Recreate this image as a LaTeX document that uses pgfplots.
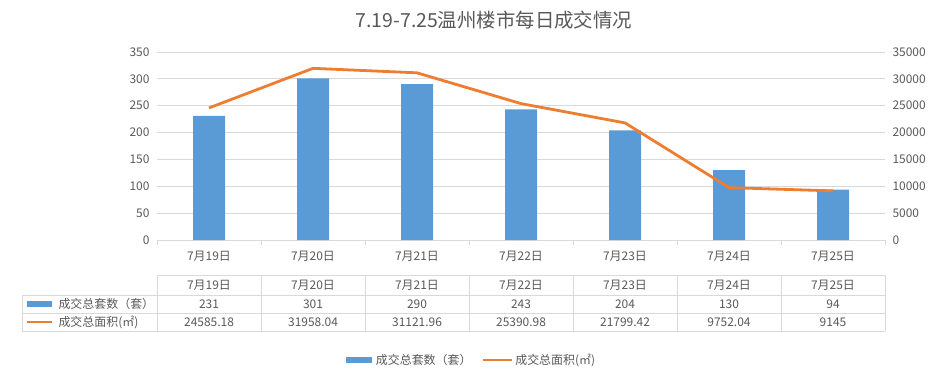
\documentclass[border=0pt]{standalone}
\usepackage{pgfplots}
\pgfplotsset{compat=1.18}
\usepackage{fontspec}
\setmainfont{Noto Sans CJK SC}
\definecolor{barblue}{HTML}{5B9BD5}
\definecolor{lineorange}{HTML}{ED7D31}
\definecolor{textgray}{HTML}{595959}
\definecolor{gridgray}{HTML}{D9D9D9}
\begin{document}
\begin{tikzpicture}[x=1bp,y=1bp]
\path[use as bounding box] (0,0) rectangle (938,380);
\node[text=textgray,font=\fontsize{19.5}{22}\selectfont] at (494,360) {7.19-7.25温州楼市每日成交情况};
\begin{axis}[
  at={(157bp,140bp)}, anchor=south west, scale only axis,
  width=728bp, height=188bp,
  xmin=-0.5, xmax=6.5, ymin=0, ymax=350, ytick distance=50,
  xtick={0,...,6},
  xticklabels={7月19日,7月20日,7月21日,7月22日,7月23日,7月24日,7月25日},
  axis line style={draw=none},
  tick pos=left,
  xtick style={draw=none}, ytick style={draw=none},
  ymajorgrids, grid style={gridgray, line width=0.8bp},
  extra x ticks={-0.5,0.5,...,6.5}, extra x tick labels={},
  extra x tick style={xtick style={draw=gridgray, line width=0.8bp}, major tick length=5bp, tick align=outside},
  /pgf/number format/assume math mode=true,
  tick label style={font=\fontsize{12}{14}\selectfont, text=textgray},
  xticklabel style={anchor=base, yshift=-20bp},
  yticklabel style={xshift=-4bp},
]
\addplot[ybar, bar width=32bp, fill=barblue, draw=none] coordinates {(0,231) (1,301) (2,290) (3,243) (4,204) (5,130) (6,94)};
\end{axis}
\begin{axis}[
  at={(157bp,140bp)}, anchor=south west, scale only axis,
  width=728bp, height=188bp,
  xmin=-0.5, xmax=6.5, ymin=0, ymax=35000, ytick distance=5000,
  axis line style={draw=none},
  hide x axis,
  ytick pos=right, ytick style={draw=none},
  scaled y ticks=false,
  /pgf/number format/.cd, 1000 sep={}, assume math mode=true, /pgfplots/.cd,
  tick label style={font=\fontsize{12}{14}\selectfont, text=textgray},
  yticklabel style={xshift=4bp},
  legend columns=2,
  legend style={draw=none, at={(0.432,-0.638)}, anchor=center, font=\fontsize{12}{14}\selectfont, text=textgray, /tikz/every even column/.append style={column sep=8bp}},
]
\addlegendimage{draw=none, legend image code/.code={\fill[barblue] (0bp,-3bp) rectangle (26bp,3bp); \path[draw=none,fill=none] (0bp,0bp) rectangle (28bp,0bp);}}
\addlegendentry{成交总套数（套）}
\addplot[lineorange, line width=2.8bp, legend image code/.code={\draw[lineorange,line width=2.8bp] (0bp,0bp) -- (29bp,0bp);}] coordinates {(0,24585.18) (1,31958.04) (2,31121.96) (3,25390.98) (4,21799.42) (5,9752.04) (6,9145)};
\addlegendentry{成交总面积(㎡)}
\end{axis}
% data table
\begin{scope}[gridgray, line width=0.8bp]
\draw (157,105) -- (885,105);
\draw (22,85) -- (885,85);
\draw (22,67) -- (885,67);
\draw (22,49) -- (885,49);
\draw (22,85) -- (22,49);
\foreach \xx in {157,261,365,469,573,677,781,885} \draw (\xx,105) -- (\xx,49);
\end{scope}
\begin{scope}[every node/.style={text=textgray, font=\fontsize{12}{14}\selectfont}]
\foreach \v [count=\i from 0] in {7月19日,7月20日,7月21日,7月22日,7月23日,7月24日,7月25日}
  \node at ({209+104*\i},95) {\v};
\foreach \v [count=\i from 0] in {231,301,290,243,204,130,94}
  \node at ({209+104*\i},76) {\v};
\foreach \v [count=\i from 0] in {24585.18,31958.04,31121.96,25390.98,21799.42,9752.04,9145}
  \node at ({209+104*\i},58) {\v};
\fill[barblue] (27,73) rectangle (52,79);
\draw[lineorange, line width=2.5bp] (27,58) -- (52,58);
\node[anchor=west] at (55,76) {成交总套数（套）};
\node[anchor=west] at (55,58) {成交总面积(㎡)};
\end{scope}
\end{tikzpicture}
\end{document}
